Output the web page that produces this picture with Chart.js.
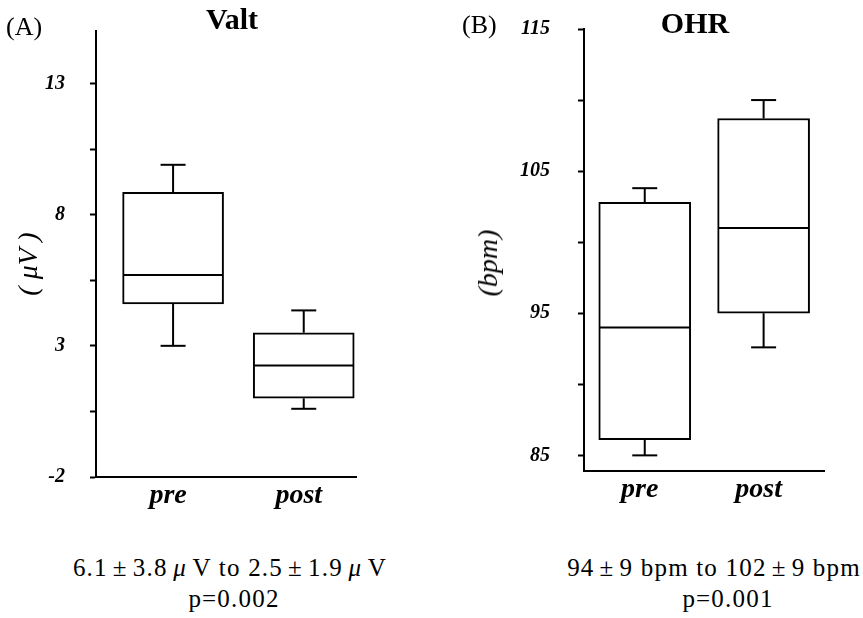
<!DOCTYPE html>
<html>
<head>
<meta charset="utf-8">
<script src="https://cdn.jsdelivr.net/npm/chart.js@4.4.0/dist/chart.umd.min.js"></script>
<style>
  body { margin: 0; background: #fff; width: 863px; height: 618px; position: relative; overflow: hidden;
         font-family: "Liberation Serif", "Times New Roman", serif; color: #000; }
  .panel { position: absolute; top: 0; height: 520px; }
  .txt { position: absolute; white-space: nowrap; text-align: center; line-height: 1; }
  .ytitle { position: absolute; white-space: nowrap; font-size: 28px; font-style: italic; line-height: 1;
            transform: translate(-50%, -50%) rotate(-90deg); }
  .note { position: absolute; white-space: nowrap; text-align: center; font-size: 25px; letter-spacing: 1.2px; line-height: 31px; }
  .w { display: inline-block; width: 1em; text-align: center; }
  .mu { font-style: italic; }
</style>
</head>
<body>
<div class="panel" style="left:0;width:430px;"><canvas id="valtChart"></canvas></div>
<div class="panel" style="left:440px;width:423px;"><canvas id="ohrChart"></canvas></div>

<div class="txt" style="left:6px;top:14px;font-size:26px;">(A)</div>
<div class="txt" style="left:462px;top:12px;font-size:26px;">(B)</div>
<div class="txt" style="left:132px;width:200px;top:4px;font-size:30px;font-weight:bold;">Valt</div>
<div class="txt" style="left:595px;width:200px;top:8px;font-size:30px;font-weight:bold;">OHR</div>

<div class="ytitle" style="left:28px;top:264px;">( μV )</div>
<div class="ytitle" style="left:488px;top:263px;">(bpm)</div>

<div class="note" style="left:30px;width:400px;top:552px;">6.1<span class="w">±</span>3.8<span class="w mu">μ</span>V to 2.5<span class="w">±</span>1.9<span class="w mu">μ</span>V</div>
<div class="note" style="left:34px;width:400px;top:583px;">p=0.002</div>
<div class="note" style="left:514px;width:400px;top:552px;">94<span class="w">±</span>9 bpm to 102<span class="w">±</span>9 bpm</div>
<div class="note" style="left:528px;width:400px;top:583px;">p=0.001</div>

<script>
// x categories
const categories = ['pre', 'post'];

// (A) Valt, µV
const valtMin = [3.0, 0.6];
const valtQ1 = [4.6, 1.0];
const valtMedian = [5.7, 2.25];
const valtQ3 = [8.85, 3.5];
const valtMax = [9.9, 4.35];
const valtTicks = [-2, 0.5, 3, 5.5, 8, 10.5, 13];
const valtLabels = [-2, 3, 8, 13];

// (B) OHR, bpm
const ohrMin = [85.0, 92.6];
const ohrQ1 = [86.1, 95.0];
const ohrMedian = [94.0, 101.0];
const ohrQ3 = [102.8, 108.7];
const ohrMax = [103.8, 110.0];
const ohrTicks = [85, 90, 95, 100, 105, 110, 115];
const ohrLabels = [85, 95, 105, 115];

const serif = '"Liberation Serif", "Times New Roman", serif';

// median line + whiskers, drawn on top of the floating bars
function whiskers(min, median, max, capWidth) {
    return {
        id: 'whiskers',
        afterDatasetsDraw(chart) {
            const ctx = chart.ctx;
            const y = chart.scales.y;
            const line = (x1, y1, x2, y2) => {
                ctx.beginPath();
                ctx.moveTo(x1, y1);
                ctx.lineTo(x2, y2);
                ctx.stroke();
            };
            ctx.save();
            ctx.strokeStyle = '#000';
            ctx.lineWidth = 2;
            chart.getDatasetMeta(0).data.forEach((bar, i) => {
                const props = bar.getProps(['x', 'y', 'base', 'width']);
                const half = props.width / 2;
                const top = Math.min(props.y, props.base);
                const bottom = Math.max(props.y, props.base);
                const ym = y.getPixelForValue(median[i]);
                const yHi = y.getPixelForValue(max[i]);
                const yLo = y.getPixelForValue(min[i]);
                line(props.x - half + 1, ym, props.x + half - 1, ym);
                line(props.x, top, props.x, yHi);
                line(props.x - capWidth / 2, yHi, props.x + capWidth / 2, yHi);
                line(props.x, bottom, props.x, yLo);
                line(props.x - capWidth / 2, yLo, props.x + capWidth / 2, yLo);
            });
            ctx.restore();
        }
    };
}

function boxChart(id, s) {
    const ctx = document.getElementById(id).getContext('2d');
    return new Chart(ctx, {
        type: 'bar',
        data: {
            datasets: [{
                data: categories.map((c, i) => ({ x: i + 1, y: [s.q1[i], s.q3[i]] })),
                backgroundColor: '#fff',
                borderColor: '#000',
                borderWidth: 2,
                borderSkipped: false,
                barThickness: s.boxWidth
            }]
        },
        options: {
            responsive: true,
            maintainAspectRatio: false,
            animation: false,
            layout: { padding: { left: 0, top: s.top, right: s.right, bottom: 0 } },
            plugins: { legend: { display: false }, tooltip: { enabled: false } },
            scales: {
                x: {
                    type: 'linear',
                    min: s.xMin,
                    max: s.xMax,
                    offset: false,
                    afterFit: (scale) => { scale.height = s.xHeight; },
                    afterBuildTicks: (scale) => { scale.ticks = categories.map((c, i) => ({ value: i + 1 })); },
                    grid: { display: false, drawTicks: false },
                    border: { display: true, color: '#000', width: 2 },
                    ticks: {
                        padding: 2,
                        labelOffset: -5,
                        color: '#000',
                        font: { family: serif, size: 28, style: 'italic', weight: 'bold' },
                        callback: (v) => categories[Math.round(v) - 1]
                    }
                },
                y: {
                    min: s.yMin,
                    max: s.yMax,
                    afterFit: (scale) => {
                        scale.width = s.yWidth;
                        scale.paddingTop = 0;
                        scale.paddingBottom = 0;
                    },
                    afterBuildTicks: (scale) => { scale.ticks = s.ticks.map(v => ({ value: v })); },
                    grid: { drawOnChartArea: false, drawTicks: true, tickLength: 6, tickWidth: 2, tickColor: '#000' },
                    border: { display: true, color: '#000', width: 2 },
                    ticks: {
                        padding: s.tickPad,
                        color: '#000',
                        font: { family: serif, size: 20, style: 'italic', weight: 'bold' },
                        callback: (v) => s.labels.includes(v) ? String(v) : ''
                    }
                }
            }
        },
        plugins: [whiskers(s.min, s.median, s.max, 25)]
    });
}

boxChart('valtChart', {
    q1: valtQ1, q3: valtQ3, min: valtMin, max: valtMax, median: valtMedian,
    ticks: valtTicks, labels: valtLabels, yMin: -2, yMax: 15,
    xMin: 0.41, xMax: 2.4, boxWidth: 101,
    top: 31, right: 74, yWidth: 96, xHeight: 43, tickPad: 25
});

boxChart('ohrChart', {
    q1: ohrQ1, q3: ohrQ3, min: ohrMin, max: ohrMax, median: ohrMedian,
    ticks: ohrTicks, labels: ohrLabels, yMin: 83.9, yMax: 115,
    xMin: 0.489, xMax: 2.508, boxWidth: 92,
    top: 29, right: 39, yWidth: 144, xHeight: 49, tickPad: 28
});
</script>
</body>
</html>
